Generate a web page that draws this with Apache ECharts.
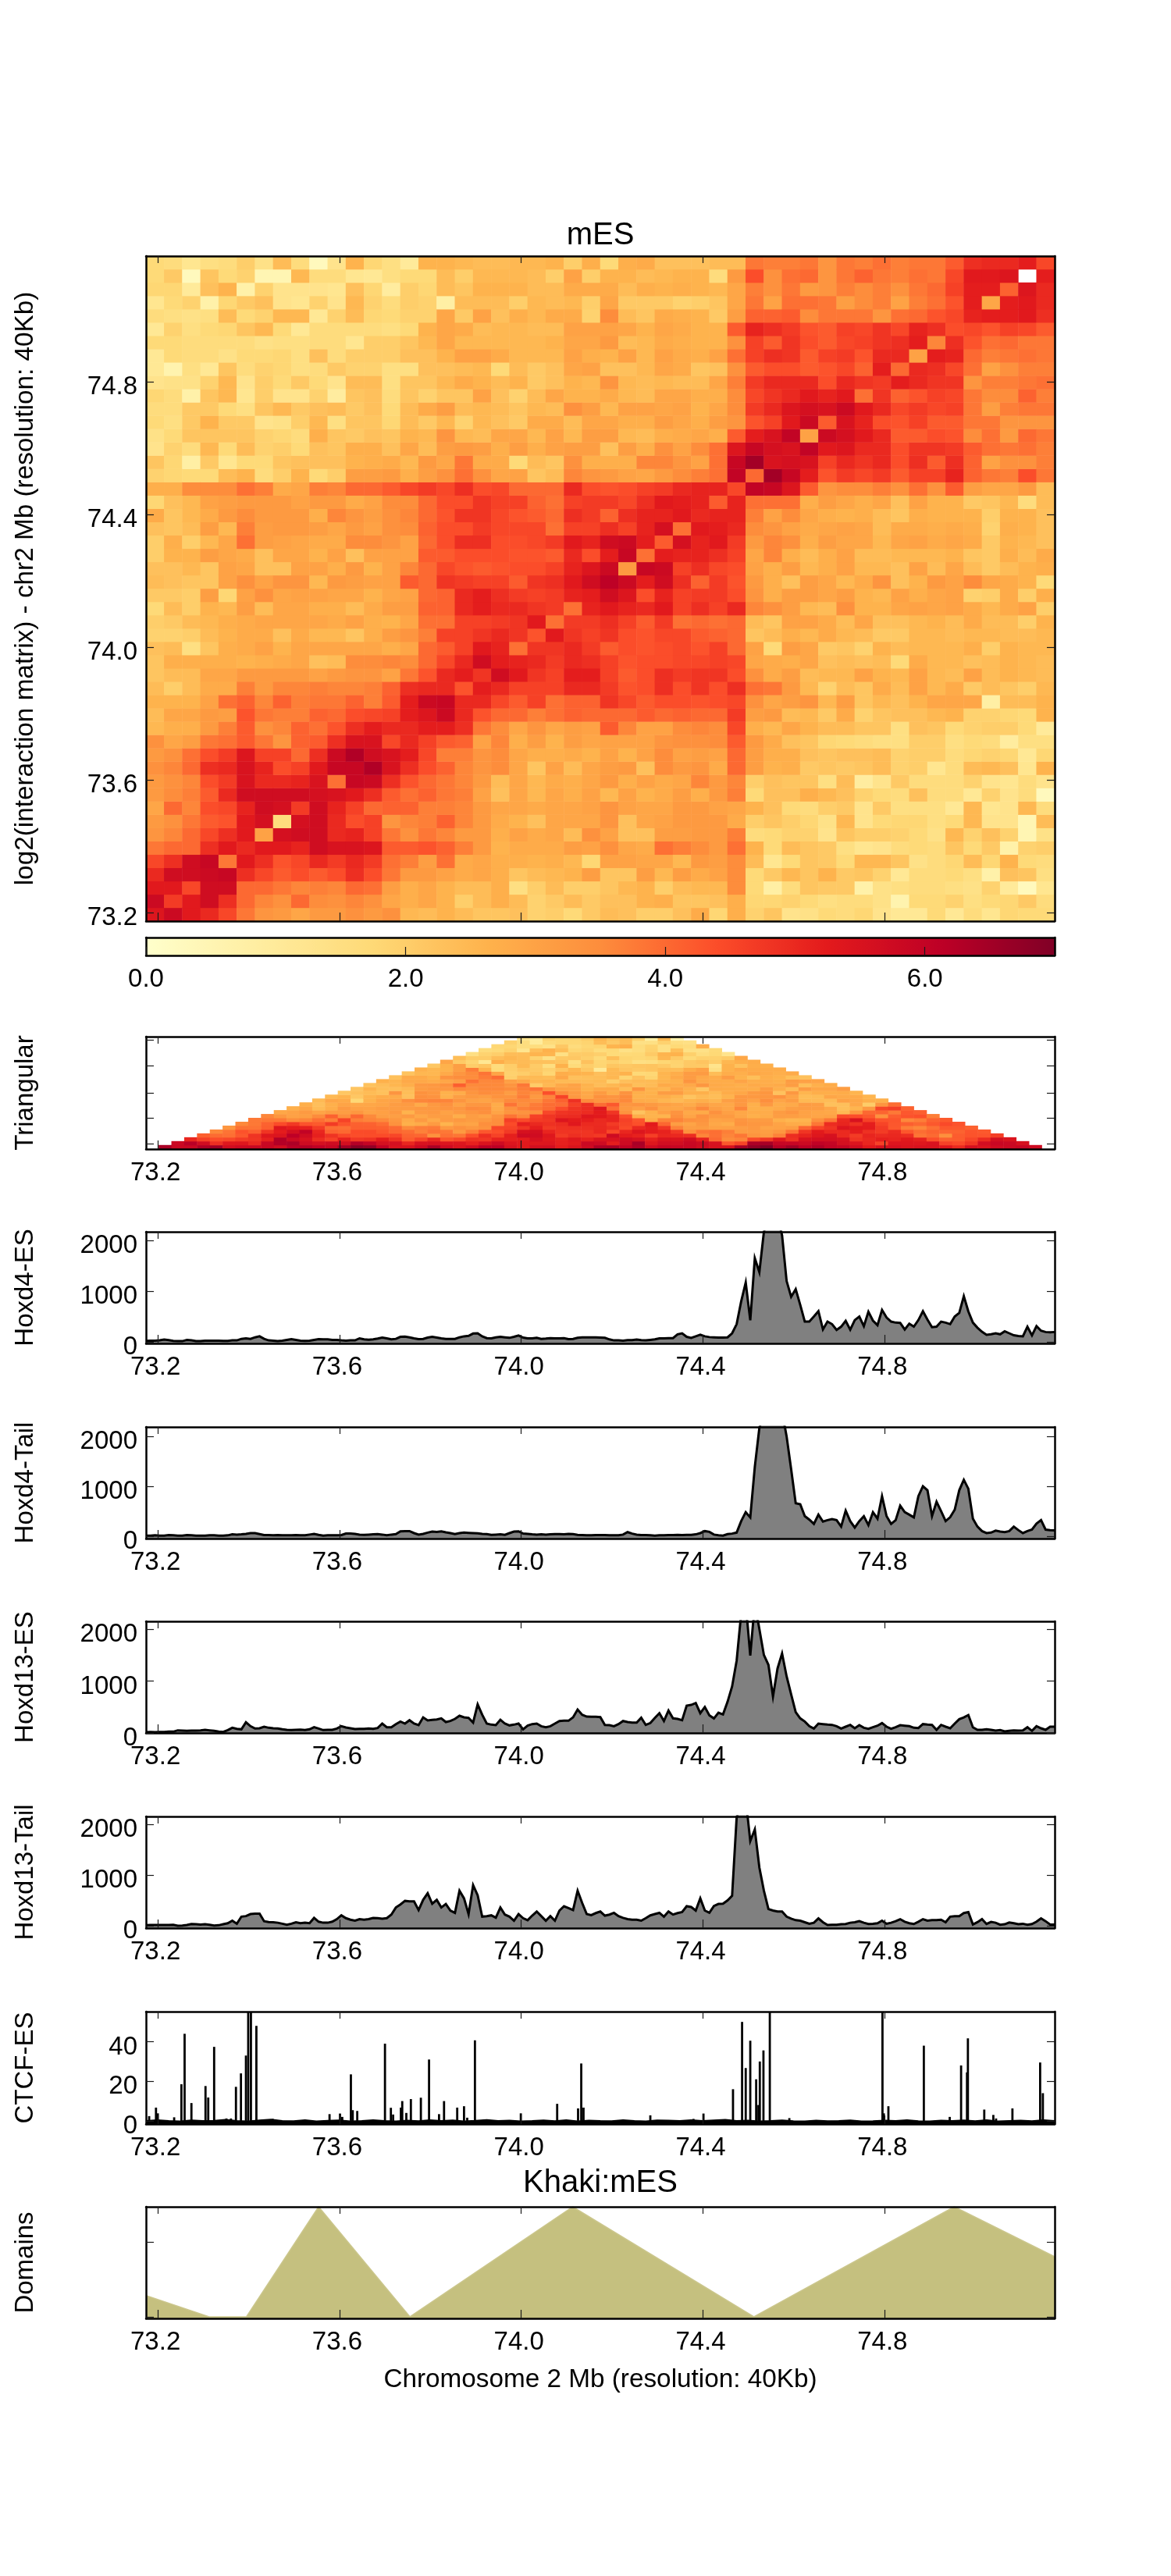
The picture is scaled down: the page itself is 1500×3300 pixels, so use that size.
<!DOCTYPE html>
<html>
<head>
<meta charset="utf-8">
<style>html,body{margin:0;padding:0;background:#fff}#c{width:1500px;height:3300px}</style>
<script src="https://cdn.jsdelivr.net/npm/echarts@6/dist/echarts.min.js"></script>
</head>
<body>
<div id="c"></div>
<script>
// Interaction matrix: rows from the top of the picture, each row runs from the left edge to the
// (symmetric) diagonal. null is the white, masked cell.
const hicRows = [
[1.7,1.6,1.2,1.5,1.6,2.0,1.4,2.4,1.6,0.3,1.3,2.6,1.8,1.5,1.0,2.6,2.6,2.5,2.4,2.4,2.5,2.5,2.6,2.0,2.7,1.7,2.7,2.8,2.3,2.3,2.3,2.4,2.4,3.8,3.7,3.7,3.8,3.3,3.8,3.7,3.9,3.7,3.8,3.8,4.2,4.9,5.0,5.0,5.2,4.5],
[1.7,2.1,0.3,2.2,1.7,1.9,0.5,0.5,2.5,1.6,1.6,1.2,1.1,1.5,1.7,1.7,2.4,2.0,2.5,2.5,2.5,2.4,2.0,3.0,2.0,2.6,2.6,2.4,2.5,2.6,2.6,1.6,3.2,4.4,3.4,3.9,4.0,3.3,3.8,4.1,3.8,3.7,3.9,3.8,4.5,5.3,5.3,5.4,null],
[1.8,1.8,1.0,2.3,2.6,0.7,1.9,1.3,1.3,1.3,1.2,2.3,1.8,0.9,2.0,1.8,2.4,2.2,2.6,2.6,2.6,2.4,2.4,2.8,2.8,2.8,2.4,2.7,2.6,2.7,2.6,2.5,2.9,3.7,3.4,3.8,3.2,3.3,3.7,3.5,3.7,3.4,3.8,4.0,4.6,5.2,5.2,4.1],
[1.2,1.7,1.9,0.7,1.8,2.1,2.3,1.3,1.2,1.9,1.3,2.5,1.9,1.6,2.0,1.9,0.8,2.4,2.4,2.4,2.0,2.5,2.4,2.5,2.0,2.9,2.1,2.1,2.1,1.9,2.0,2.2,2.9,3.8,3.0,3.9,3.9,3.8,3.1,3.5,3.7,3.0,3.7,3.9,4.3,5.2,2.9],
[1.6,1.5,1.4,1.5,2.4,1.7,1.9,2.5,2.5,1.1,1.9,2.4,1.8,1.7,1.9,1.9,2.9,2.1,3.0,2.3,2.7,2.5,2.8,2.8,1.9,3.5,2.4,2.2,2.8,2.7,2.6,2.1,3.1,4.1,4.1,4.2,3.5,3.8,3.8,3.8,3.3,3.9,4.0,4.3,4.5,5.1],
[1.1,1.9,1.5,1.7,1.8,2.2,2.5,1.7,1.1,1.6,1.6,1.6,1.6,1.5,1.7,2.6,2.9,2.8,2.4,2.5,2.5,2.4,2.4,3.0,3.0,3.0,2.9,2.6,2.9,2.8,2.6,2.6,4.2,5.1,4.9,4.7,4.3,4.2,4.6,4.5,4.8,4.5,5.1,4.9,4.4],
[1.7,1.7,1.6,1.6,1.6,1.6,1.4,1.5,1.5,1.6,1.6,1.2,2.0,2.0,2.2,2.5,2.9,2.5,2.5,2.5,2.5,2.5,2.6,2.9,2.9,3.2,2.4,2.5,2.8,2.7,2.6,2.6,3.4,4.6,4.2,4.8,4.4,4.2,4.5,4.6,4.8,4.9,5.2,3.6],
[1.1,1.7,1.6,1.6,1.4,1.7,1.7,1.8,1.5,2.3,1.6,2.0,2.0,2.0,2.3,2.3,2.6,3.0,3.0,2.8,2.5,2.5,2.5,3.0,2.7,2.6,3.0,2.5,3.0,2.8,2.7,3.0,3.9,4.6,4.9,4.8,4.2,4.6,4.7,4.3,5.0,5.0,3.0],
[1.1,0.6,1.5,1.1,2.2,1.6,1.9,1.8,1.5,1.6,2.1,1.9,1.9,1.5,1.5,2.3,2.3,2.4,2.5,1.7,2.4,2.1,2.3,2.9,3.0,2.3,2.3,2.5,2.9,2.8,2.2,2.3,3.4,4.2,4.4,4.4,4.2,4.3,4.5,4.1,5.2,4.0],
[1.3,1.4,1.4,1.9,2.5,1.3,2.0,1.7,2.1,1.7,1.3,2.4,2.4,1.5,2.2,2.2,2.5,2.8,2.6,2.4,2.6,2.1,2.3,2.6,2.5,3.3,2.5,2.4,2.5,2.4,2.4,2.9,3.7,4.7,5.0,5.0,5.0,4.4,5.0,4.8,4.7],
[1.8,1.6,0.7,2.2,2.5,1.2,2.0,1.3,1.3,1.9,0.9,2.2,2.3,1.6,2.2,1.9,2.2,2.2,3.0,2.3,1.9,2.4,2.9,2.6,2.6,2.8,2.5,2.4,2.9,2.9,2.7,2.7,3.5,4.5,4.8,5.0,5.3,5.1,5.3,3.9],
[1.6,1.6,2.1,2.1,1.7,1.5,2.2,2.5,2.1,2.3,2.4,2.1,2.3,1.7,2.4,2.8,3.1,2.4,2.5,2.4,2.2,2.5,2.4,3.4,3.1,2.5,3.0,3.0,2.9,3.0,2.6,2.9,3.5,4.7,5.0,5.4,5.6,5.5,5.8],
[1.7,1.5,2.1,2.6,2.1,2.1,1.3,1.4,2.0,2.5,1.5,2.2,2.2,1.8,2.4,2.1,2.5,1.9,2.5,2.3,2.1,2.8,2.8,2.4,2.9,2.9,2.7,2.7,3.1,2.9,2.7,3.1,3.3,4.3,4.6,5.3,5.8,4.2],
[1.4,1.7,2.2,2.2,2.2,2.2,1.9,1.8,1.6,2.7,2.2,2.1,2.3,2.2,2.6,2.5,3.3,2.5,2.4,2.9,2.9,2.5,3.0,2.5,3.1,3.1,2.5,2.4,2.7,2.8,2.9,2.7,4.2,5.2,5.5,6.0,3.0],
[1.3,1.9,1.6,2.5,1.7,2.4,1.9,2.0,1.7,2.3,2.2,2.7,2.7,2.3,2.9,2.4,3.1,3.2,3.1,2.7,3.1,2.7,3.0,3.1,3.1,2.3,3.1,2.7,3.4,3.0,3.5,3.9,5.4,5.9,5.6,5.5],
[2.2,1.8,0.8,2.1,1.2,1.7,1.7,2.2,2.3,2.3,2.3,2.6,2.7,2.8,2.5,3.2,2.9,3.8,2.8,2.8,1.7,2.4,2.2,3.4,2.7,2.7,2.7,3.6,3.6,3.3,3.0,3.9,5.9,6.5,5.5],
[1.9,1.8,1.7,1.7,2.4,2.6,1.6,2.0,2.6,1.7,2.0,3.1,3.1,3.2,2.7,3.1,3.4,3.9,3.4,2.9,3.0,2.2,2.4,3.6,3.3,3.2,3.0,2.9,3.2,3.5,3.7,3.9,6.0,4.0],
[2.7,2.7,3.5,3.5,3.5,3.9,3.7,2.8,2.9,3.7,3.6,4.0,4.0,4.2,4.5,4.7,4.5,4.9,4.4,4.5,4.0,4.0,4.0,5.0,4.4,4.3,4.4,4.6,4.7,5.0,5.1,5.1,4.5],
[1.8,2.3,2.5,3.0,3.1,3.2,3.2,3.2,3.0,3.2,3.2,2.8,3.0,3.5,3.5,4.0,4.4,4.4,4.8,4.6,4.6,4.1,3.9,4.6,4.7,4.7,4.5,4.9,5.3,5.2,5.1,4.2],
[2.8,2.2,2.5,2.8,3.2,3.5,3.2,3.2,3.2,2.7,3.6,3.3,3.1,3.4,3.6,4.0,4.3,4.8,4.8,4.5,4.3,4.2,4.0,4.9,4.7,4.1,4.9,5.1,5.1,5.3,5.0],
[2.3,2.2,2.4,3.1,2.5,3.7,3.1,3.2,3.2,3.1,2.9,3.2,3.0,3.4,3.5,4.1,4.4,4.4,4.7,4.5,4.5,4.5,3.9,4.6,4.6,4.9,4.6,5.1,5.6,3.9],
[2.0,2.7,2.0,2.5,2.9,3.9,3.1,3.0,2.9,2.8,2.8,3.5,3.5,3.3,3.0,4.0,4.4,4.9,4.9,4.4,4.4,4.5,4.7,5.3,5.1,5.7,5.8,5.2,4.2],
[2.0,2.6,2.6,3.1,2.9,2.8,2.3,2.9,2.9,2.6,3.0,2.3,3.0,3.0,3.0,4.2,4.2,4.4,4.4,4.4,4.3,4.3,4.2,5.0,4.4,5.2,5.9,3.9],
[2.3,2.3,2.5,2.2,3.0,2.9,2.3,2.3,3.0,3.0,2.7,3.2,2.6,3.0,3.6,4.0,4.5,4.3,4.2,4.3,4.4,4.4,4.6,5.1,5.4,5.8,3.2],
[2.4,2.3,2.2,2.2,3.0,3.4,3.0,3.3,3.3,2.5,3.2,3.1,3.0,3.0,4.2,4.0,4.8,4.7,4.6,4.6,4.2,4.8,4.9,5.3,5.7,6.1],
[2.1,2.1,2.0,3.1,1.8,3.0,3.4,2.9,3.0,3.0,2.9,2.9,2.6,2.9,3.0,4.0,4.1,5.0,5.2,4.9,4.7,4.6,4.7,5.1,5.2],
[1.7,2.4,2.0,2.6,2.5,3.1,2.4,2.9,2.9,2.7,2.7,2.4,2.8,3.1,3.1,4.1,4.1,5.0,5.2,5.0,5.0,4.8,4.7,3.9],
[2.0,2.1,2.4,2.5,2.7,2.8,2.9,2.9,2.9,2.9,2.8,3.0,2.7,2.6,2.9,3.9,3.9,4.6,4.6,4.7,4.8,5.3,3.9],
[1.9,1.9,2.0,2.4,2.6,2.8,2.8,2.3,2.8,2.5,2.5,2.2,2.7,3.1,3.3,3.7,4.6,4.6,4.8,5.0,4.8,4.3],
[2.3,2.4,1.5,2.2,2.7,2.8,3.0,2.6,2.9,2.9,2.9,2.9,2.9,2.7,2.9,4.0,4.2,4.6,5.3,5.1,3.9],
[2.2,2.7,2.7,2.7,2.7,2.6,2.7,2.8,2.9,2.3,2.4,3.5,3.5,3.6,3.5,4.0,4.5,5.0,5.7,5.2],
[2.2,2.4,2.4,2.9,2.9,3.2,3.2,3.2,3.2,3.0,3.2,3.3,3.3,3.0,3.8,4.3,5.0,5.2,4.8],
[2.4,2.0,2.4,2.8,2.8,3.7,3.2,3.6,3.6,3.7,3.6,3.6,3.7,4.1,4.9,5.0,5.0,4.3],
[2.6,2.6,2.6,3.0,3.9,4.1,3.6,4.1,3.7,3.8,3.8,4.1,3.7,4.2,5.2,5.8,5.9],
[2.4,2.9,2.9,3.2,3.1,4.3,3.8,3.7,3.7,4.1,4.0,4.4,4.5,4.6,5.2,5.4],
[2.5,2.7,2.7,3.2,3.7,4.2,3.4,3.6,4.1,3.9,4.3,4.9,5.2,5.0,5.0],
[3.4,2.9,3.1,3.8,3.9,4.2,3.8,3.3,4.1,4.2,4.9,5.5,5.5,4.5],
[3.2,3.4,3.9,4.4,4.7,5.4,4.6,4.6,4.0,4.9,5.8,6.3,5.7],
[3.4,3.6,4.0,4.9,5.0,5.5,5.1,4.4,4.6,5.3,5.9,5.9],
[3.2,3.4,3.6,4.4,4.7,5.5,5.0,5.0,5.1,5.5,3.9],
[3.2,3.5,3.7,4.2,5.0,5.7,5.7,5.7,5.7,5.6],
[2.9,4.0,3.6,4.4,4.5,5.1,5.7,5.6,4.7],
[3.2,3.4,3.8,4.2,4.3,5.3,5.6,1.6],
[3.3,3.6,4.0,4.5,4.9,5.3,3.0],
[3.8,4.0,4.0,4.9,5.3,5.0],
[4.5,4.9,5.7,5.9,3.8],
[5.0,5.7,5.7,5.8],
[5.3,5.3,4.5],
[5.8,4.7],
[5.4]
];
const ylOrRd = ['#ffffcc','#ffeda0','#fed976','#feb24c','#fd8d3c','#fc4e2a','#e31a1c','#bd0026','#800026'];

// Tracks: one reading every 0.01 Mb from the left edge of the plot
const hoxd4Es = [20,25,25,30,45,35,20,15,15,40,30,15,15,25,25,25,25,20,20,30,30,60,70,60,90,110,60,30,25,15,25,40,55,40,25,20,25,40,55,50,50,40,40,30,25,30,30,70,50,45,50,65,85,70,50,60,100,105,90,70,55,60,85,100,85,70,60,60,60,90,110,120,165,170,110,75,70,90,100,90,80,100,125,85,70,70,80,60,65,75,70,70,75,55,60,80,90,90,90,90,85,80,50,30,30,25,35,35,45,35,30,40,50,70,70,75,75,150,170,100,80,110,140,110,95,90,85,85,90,170,350,800,1170,425,1650,1375,2170,2500,2500,2500,2100,1200,890,1040,730,400,400,500,605,245,400,350,235,300,415,240,430,500,310,595,420,330,630,480,400,380,375,245,360,300,430,605,440,290,300,400,380,350,500,570,900,600,380,280,200,140,150,170,150,210,170,130,115,110,300,130,310,220,195,190,195];
const hoxd4Tail = [10,10,15,10,10,20,15,10,10,20,15,10,10,10,15,15,10,10,15,35,30,35,45,60,60,40,20,20,15,20,15,15,15,20,15,15,30,45,25,10,15,15,15,20,50,50,45,30,25,30,35,40,30,15,30,40,95,100,100,60,30,45,70,90,85,95,75,60,40,60,70,65,60,55,45,40,25,30,35,25,60,90,95,50,45,35,30,35,30,35,40,40,35,45,40,25,20,15,15,20,20,20,15,15,15,30,80,50,30,20,20,15,10,15,15,20,20,25,20,25,25,35,60,100,85,30,15,10,40,50,70,300,480,375,1390,2170,2500,2500,2500,2500,2500,2000,1340,660,640,400,330,245,430,290,320,340,320,190,510,300,170,300,400,220,480,350,800,400,245,320,610,480,430,375,800,1000,920,400,690,500,300,380,530,920,1130,950,350,190,100,60,70,110,90,80,100,190,120,60,100,130,250,320,130,120,115];
const hoxd13Es = [15,20,15,20,20,25,25,50,45,40,45,45,50,60,50,40,25,20,55,100,80,70,205,130,85,90,120,100,90,85,70,60,55,60,65,55,70,110,85,55,60,60,85,130,105,90,75,80,80,85,80,95,180,110,110,170,220,180,245,180,150,300,240,250,260,280,210,230,270,330,300,290,200,550,350,180,160,150,255,180,145,160,180,70,140,170,180,130,110,130,180,230,235,235,300,450,350,315,310,310,305,155,150,130,170,230,210,200,200,295,155,190,290,380,230,430,280,270,245,525,540,575,380,500,340,280,390,355,600,895,1390,2300,2500,1490,2500,2000,1500,1310,700,1240,1530,1090,740,400,280,220,130,85,180,170,160,155,130,85,120,155,90,150,100,80,110,140,190,120,80,110,150,140,130,100,95,170,160,155,60,155,120,90,180,265,300,345,110,60,60,70,60,45,55,30,40,50,45,50,110,40,130,90,60,120,120];
const hoxd13Tail = [10,15,15,15,15,15,20,0,5,15,35,30,25,30,20,5,10,30,50,100,40,180,190,230,240,240,90,75,70,60,40,20,40,70,50,60,50,155,80,60,60,80,130,205,150,120,100,130,120,130,155,150,140,150,220,360,420,490,480,480,310,510,640,435,510,360,430,300,255,690,540,230,800,600,180,190,205,160,360,220,180,100,230,150,110,200,280,190,100,190,100,300,385,350,310,690,450,230,210,250,280,200,220,255,190,155,130,120,120,100,150,205,230,255,180,280,220,250,270,385,370,300,540,300,255,390,430,435,500,590,2130,2500,2500,1670,1900,1150,690,330,300,280,280,180,140,110,100,70,40,60,145,70,15,20,20,30,35,60,70,90,60,35,40,50,100,40,60,90,130,80,50,35,80,130,100,110,110,120,70,180,190,190,250,270,25,70,130,35,75,60,20,30,65,50,30,40,20,35,80,145,90,25,25];

// CTCF peaks (Mb, height)
const ctcfPos = [73.181,73.196,73.200,73.236,73.252,73.259,73.274,73.305,73.311,73.324,73.351,73.361,73.372,73.383,73.394,73.399,73.405,73.417,73.453,73.578,73.601,73.606,73.625,73.629,73.639,73.700,73.713,73.718,73.735,73.738,73.747,73.757,73.779,73.797,73.819,73.830,73.859,73.874,73.881,73.898,73.999,74.079,74.125,74.132,74.137,74.284,74.379,74.401,74.466,74.486,74.494,74.504,74.517,74.522,74.525,74.533,74.547,74.590,74.795,74.798,74.808,74.886,74.943,74.968,74.981,74.983,75.019,75.039,75.045,75.081,75.142,75.148];
const ctcfVal = [2.4,6.7,3.8,1.8,18.5,44,9,17.6,11.8,37.4,1.2,1.2,17.2,24,33,60,60,48,1,3.4,3.7,2,23.5,5.4,5,39,6.6,3.2,6.7,10,4,11,11.7,31,3.4,10,6.7,7.4,1.6,40.7,3.8,8.6,6.3,29,6.7,2.8,1,3.7,16,50,26.7,40.5,21,8,30,35.6,60,1.4,60,3.8,7.4,38,2,28,24.5,41.7,5.7,3,1.2,6.3,29.5,14];
const ctcfBaseline = [0.1,0.5,0.1,-0.1,0.4,0.1,0.2,0.7,0.1,-0.1,0.4,0.8,0.1,0.0,0.5,-0.1,0.2,0.4,-0.1,0.1,0.5,0.1,-0.1,0.3,0.0,0.5,0.1,0.4,-0.1,0.2,0.6,0.1,0.3,-0.1,0.1,0.4,0.0,0.5,-0.1,0.3,0.1,0.0,0.5,0.1,-0.1,0.4,0.3,0.1,0.5,0.1,0.4,0.7,0.1,0.3,-0.1,0.1,0.4,0.0,-0.1,0.3,0.0,0.1,0.4,-0.1,0.0,0.3,0.1,0.5,0.0,-0.1,0.3,0.1,0.4,0.0,0.5,-0.1,0.1,0.3,0.0,0.5,0.1];

// Domain track outline
const domainPos = [73.174,73.313,73.395,73.554,73.755,74.113,74.512,74.953,75.174];
const domainVal = [0.193,0,0,1,0,1,0,1,0.546];

const xTicks = [73.2,73.6,74.0,74.4,74.8];
const hicTicks = [73.2,73.6,74.0,74.4,74.8];
const colorbarTicks = [0,2,4,6];
const trackTicks = [0,1000,2000];
const ctcfTicks = [0,20,40];

const FONT = '"Liberation Sans", Arial, sans-serif';
const L = 187, W = 1164, XMIN = 73.174, XMAX = 75.174;
const LABEL = {fontFamily: FONT, fontSize: 33, color: '#000'};
const spine = {show: true, onZero: false, lineStyle: {color: '#000', width: 2.5}};
const tickStyle = {color: '#1a1a1a', width: 1.2};

const opt = {animation: false, backgroundColor: '#fff', title: [], grid: [], xAxis: [], yAxis: [], series: [],
  visualMap: [
    {show: true, type: 'continuous', min: 0, max: 7, seriesIndex: [], dimension: 2, orient: 'horizontal',
     left: L, top: 1201, itemWidth: 23, itemHeight: W, padding: 0, calculable: false, realtime: false, hoverLink: false,
     text: null, inRange: {color: ylOrRd}},
    {show: false, type: 'continuous', min: 0, max: 6.3, seriesIndex: [], dimension: 2, inRange: {color: ylOrRd}}
  ]};

function valueAxis(gridIndex, position, min, max, ticks, tickLen, o) {
  o = o || {};
  return Object.assign({gridIndex, type: 'value', position, min, max, z: 6, silent: true,
    axisLine: spine,
    axisTick: {show: ticks.length > 0, inside: true, length: tickLen, customValues: ticks, lineStyle: tickStyle},
    axisLabel: {show: false},
    splitLine: {show: false}}, o);
}
function xLabelStyle(ticks, fmt) {
  return {show: true, customValues: ticks, inside: false, margin: 14, padding: [0, 6, 0, 0], formatter: fmt, ...LABEL};
}
function yLabelStyle(ticks, fmt) {
  return {show: true, customValues: ticks, margin: 11, verticalAlign: 'top', lineHeight: 14, formatter: fmt, ...LABEL};
}
const fmt1 = v => Number(v).toFixed(1);

function panel(p) {
  const g = opt.grid.length;
  opt.grid.push({left: L, top: p.top, width: W, height: p.height, containLabel: false, outerBoundsMode: 'none'});
  const xb = opt.xAxis.length;
  const xo = {};
  if (p.xLabels) xo.axisLabel = xLabelStyle(xTicks, fmt1);
  if (p.xName) Object.assign(xo, {name: p.xName, nameLocation: 'middle', nameGap: 62, nameTextStyle: {...LABEL, fontSize: 33.3}});
  opt.xAxis.push(valueAxis(g, 'bottom', XMIN, XMAX, xTicks, 11, xo));
  opt.xAxis.push(valueAxis(g, 'top', XMIN, XMAX, xTicks, 9));
  const yl = opt.yAxis.length;
  const yo = {};
  if (p.yLabels) yo.axisLabel = yLabelStyle(p.yTicks, p.yFmt || (v => String(v)));
  if (p.yName) Object.assign(yo, {name: p.yName, nameLocation: 'middle', nameGap: 138, nameRotate: 90, nameTextStyle: {...LABEL, fontSize: p.yNameSize || 33}});
  opt.yAxis.push(valueAxis(g, 'left', p.yMin, p.yMax, p.yTicks, 10, yo));
  opt.yAxis.push(valueAxis(g, 'right', p.yMin, p.yMax, p.yTicks, 10));
  return {g, x: xb, y: yl};
}
function catPair(g, cols, rows) {
  const xi = opt.xAxis.length, yi = opt.yAxis.length;
  opt.xAxis.push({gridIndex: g, type: 'category', show: false, data: cols});
  opt.yAxis.push({gridIndex: g, type: 'category', show: false, data: rows});
  return {xi, yi};
}
function title(text, cy) {
  opt.title.push({text, left: L + W / 2, top: cy - 23, textAlign: 'center', padding: 0,
    textStyle: {fontFamily: FONT, fontSize: 40, fontWeight: 'normal', color: '#000'}});
}

// ---- full matrix, mirrored over the diagonal
const N = hicRows.length;
function cell(col, rowFromBottom) {
  const r = N - 1 - rowFromBottom;
  return (col <= N - 1 - r) ? hicRows[r][col] : hicRows[N - 1 - col][N - 1 - r];
}
const hicData = [];
for (let c = 0; c < N; c++) for (let b = 0; b < N; b++) {
  const v = cell(c, b);
  if (v !== null && v !== undefined) hicData.push([c, b, v]);
}
const binCats = Array.from({length: N}, (_, i) => i);

const pHeat = panel({top: 328, height: 852, yMin: 73.174, yMax: 75.18, yTicks: hicTicks, yLabels: true, yFmt: fmt1,
  yName: 'log2(interaction matrix) - chr2 Mb (resolution: 40Kb)', yNameSize: 33.3});
const ch = catPair(pHeat.g, binCats, binCats);
title('mES', 305);
opt.visualMap[0].seriesIndex.push(opt.series.length);
opt.series.push({type: 'heatmap', xAxisIndex: ch.xi, yAxisIndex: ch.yi, data: hicData, progressive: 0, silent: true, itemStyle: {borderWidth: 0}});

// ---- colour bar axis, over the visualMap bar
{
  const g = opt.grid.length;
  opt.grid.push({left: L, top: 1201, width: W, height: 23, outerBoundsMode: 'none'});
  opt.xAxis.push(valueAxis(g, 'bottom', 0, 7, colorbarTicks, 11, {axisLabel: {show: true, customValues: colorbarTicks, margin: 14, formatter: fmt1, ...LABEL}}));
  opt.xAxis.push(valueAxis(g, 'top', 0, 7, []));
  opt.yAxis.push(valueAxis(g, 'left', 0, 1, []));
  opt.yAxis.push(valueAxis(g, 'right', 0, 1, []));
}

// ---- triangular view: the same matrix turned by 45 degrees and resampled
const triCols = 71, triRows = 29;
const triData = [];
function near(i, j, fallback) {
  if (i < 0 || j < 0 || i >= N || j >= N) return fallback;
  const v = cell(i, j);
  return (v === null || v === undefined) ? fallback : v;
}
for (let a = 0; a < triCols; a++) for (let b = 0; b < triRows; b++) {
  const u = a + 0.5, v = b + 0.7;
  const fi = (u - v) / Math.SQRT2, fj = (u + v) / Math.SQRT2;
  if (fi < 0 || fj < 0 || fi >= N || fj >= N) continue;
  const x = fi - 0.5, y = fj - 0.5;
  const i0 = Math.floor(x), j0 = Math.floor(y), tx = x - i0, ty = y - j0;
  const centre = near(Math.floor(fi), Math.floor(fj), 4);
  const smooth = near(i0, j0, centre) * (1 - tx) * (1 - ty) + near(i0 + 1, j0, centre) * tx * (1 - ty)
               + near(i0, j0 + 1, centre) * (1 - tx) * ty + near(i0 + 1, j0 + 1, centre) * tx * ty;
  triData.push([a, b, +((smooth + centre) / 2).toFixed(2)]);
}
const pTri = panel({top: 1328, height: 144, yMin: 0, yMax: 29, yTicks: [1.4, 8, 14.5, 21.5, 28.2], xLabels: true, yName: 'Triangular'});
const ct = catPair(pTri.g, Array.from({length: triCols}, (_, i) => i), Array.from({length: triRows}, (_, i) => i));
opt.visualMap[1].seriesIndex.push(opt.series.length);
opt.series.push({type: 'heatmap', xAxisIndex: ct.xi, yAxisIndex: ct.yi, data: triData, progressive: 0, silent: true});

// ---- signal tracks
const trackPos = hoxd4Es.map((_, k) => +(XMIN + k * 0.01).toFixed(3));
function track(name, values, top, yMin, yMax) {
  const p = panel({top, height: 143, yMin, yMax, yTicks: trackTicks, yLabels: true, xLabels: true, yName: name});
  opt.series.push({type: 'line', xAxisIndex: p.x, yAxisIndex: p.y, data: values.map((v, k) => [trackPos[k], v]),
    showSymbol: false, symbol: 'none', silent: true, lineStyle: {color: '#000', width: 3, join: 'miter'},
    areaStyle: {color: '#808080', opacity: 1, origin: 'start'}, clip: true, z: 2});
}
track('Hoxd4-ES', hoxd4Es, 1578, -30, 2170);
track('Hoxd4-Tail', hoxd4Tail, 1828, -50, 2190);
track('Hoxd13-ES', hoxd13Es, 2077, 0, 2148);
track('Hoxd13-Tail', hoxd13Tail, 2327, -46, 2154);

// ---- CTCF
const pC = panel({top: 2577, height: 144, yMin: -1.6, yMax: 55.2, yTicks: ctcfTicks, yLabels: true, xLabels: true, yName: 'CTCF-ES'});
opt.series.push({type: 'bar', xAxisIndex: pC.x, yAxisIndex: pC.y, data: ctcfPos.map((x, i) => [x, ctcfVal[i]]), barWidth: 2.8, silent: true, itemStyle: {color: '#000'}, clip: true});
opt.series.push({type: 'line', xAxisIndex: pC.x, yAxisIndex: pC.y, data: ctcfBaseline.map((v, k) => [+(XMIN + k * 0.025).toFixed(3), v]), symbol: 'none', silent: true,
  lineStyle: {color: '#000', width: 1.5}, areaStyle: {color: '#000', opacity: 1, origin: 'start'}});

// ---- Domains
const pD = panel({top: 2827, height: 143, yMin: -0.015, yMax: 1, yTicks: [0, 0.68], xLabels: true, yName: 'Domains', xName: 'Chromosome 2 Mb (resolution: 40Kb)'});
title('Khaki:mES', 2800);
opt.series.push({type: 'line', xAxisIndex: pD.x, yAxisIndex: pD.y, data: domainPos.map((x, i) => [x, domainVal[i]]), symbol: 'none', silent: true,
  lineStyle: {color: '#cbc68c', width: 1.5}, areaStyle: {color: '#c5c07f', opacity: 1, origin: 'start'}});

const chart = echarts.init(document.getElementById('c'), null, {renderer: 'canvas', width: 1500, height: 3300});
chart.setOption(opt);
</script>
</body>
</html>
